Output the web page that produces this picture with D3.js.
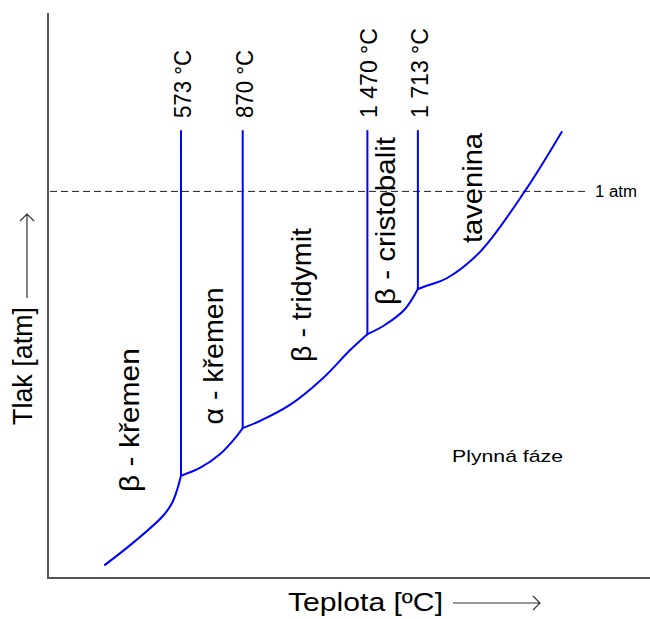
<!DOCTYPE html>
<html><head><meta charset="utf-8">
<script src="https://cdn.jsdelivr.net/npm/d3@7"></script>
<style>
body{margin:0;background:#fff}
svg{display:block}
text{font-family:"Liberation Sans",Arial,Helvetica,sans-serif;fill:#000}
</style>
</head><body>
<svg id="c" width="650" height="619"></svg>
<script>
// ---- data ----
const transitionTemps = [573, 870, 1470, 1713];
const transitionLabels = ["573 °C", "870 °C", "1 470 °C", "1 713 °C"];
const transitionBaseLogP = [-4.78, -3.98, -2.40, -1.64];
const transitionTopLogP = 1.03;

const seg1T = [207, 352, 486, 530, 554, 573];
const seg1P = [-6.28, -5.88, -5.457, -5.24, -5.02, -4.78];
const seg2T = [573, 664, 760, 842, 870];
const seg2P = [-4.78, -4.65, -4.42, -4.11, -3.98];
const seg3T = [870, 953, 1097, 1256, 1386, 1470];
const seg3P = [-3.98, -3.86, -3.59, -3.14, -2.67, -2.40];
const seg4T = [1470, 1552, 1648, 1713];
const seg4P = [-2.40, -2.25, -1.99, -1.64];
const seg5T = [1713, 1770, 1852, 2011, 2227, 2405];
const seg5P = [-1.64, -1.57, -1.46, -1.02, 0.0, 1.0];

const phaseNames = ["β - křemen", "α - křemen", "β - tridymit", "β - cristobalit", "tavenina"];
const atmLogP = 0;
const atmLabel = "1 atm";
const gasLabel = "Plynná fáze";
const xTitle = "Teplota [ºC]";
const yTitle = "Tlak [atm]";

// ---- layout ----
const x = d3.scaleLinear().domain([-67, 2830]).range([48, 650]);
const y = d3.scaleLinear().domain([-6.5, 3]).range([578, 13]);
const svg = d3.select("#c");

// axes frame
svg.append("line").attr("x1", x(-67)).attr("x2", x(-67)).attr("y1", y(3)).attr("y2", y(-6.5))
  .attr("stroke", "#555").attr("stroke-width", 2);
svg.append("line").attr("x1", x(-67) - 1).attr("x2", x(2830)).attr("y1", y(-6.5)).attr("y2", y(-6.5))
  .attr("stroke", "#555").attr("stroke-width", 2);

// 1 atm dashed line
svg.append("line").attr("x1", x(-67) + 2).attr("x2", 587).attr("y1", y(atmLogP)).attr("y2", y(atmLogP))
  .attr("stroke", "#222").attr("stroke-width", 1).attr("stroke-dasharray", "7,4");
svg.append("text").attr("x", 595).attr("y", y(atmLogP) + 6).attr("font-size", 16)
  .attr("textLength", 42).attr("lengthAdjust", "spacingAndGlyphs").text(atmLabel);

// curves
const line = d3.line().x(d => x(d[0])).y(d => y(d[1])).curve(d3.curveCatmullRom.alpha(0.5));
const segs = [[seg1T, seg1P], [seg2T, seg2P], [seg3T, seg3P], [seg4T, seg4P], [seg5T, seg5P]];
segs.forEach(([ts, ps]) => {
  svg.append("path").datum(ts.map((t, i) => [t, ps[i]])).attr("d", line)
    .attr("fill", "none").attr("stroke", "#0000ff").attr("stroke-width", 2)
    .attr("stroke-linejoin", "round").attr("stroke-linecap", "round");
});

// transition verticals
transitionTemps.forEach((t, i) => {
  svg.append("line").attr("x1", x(t)).attr("x2", x(t))
    .attr("y1", y(transitionBaseLogP[i])).attr("y2", y(transitionTopLogP))
    .attr("stroke", "#0000ff").attr("stroke-width", 2);
});

// rotated text helper
function vtext(str, bx, cy, size, len, anchor) {
  const t = svg.append("text")
    .attr("transform", `translate(${bx},${cy}) rotate(-90)`)
    .attr("text-anchor", anchor || "middle")
    .attr("font-size", size).text(str);
  if (len) t.attr("textLength", len).attr("lengthAdjust", "spacingAndGlyphs");
  return t;
}

// transition labels
const tLabelLen = [68, 68, 90, 90];
transitionTemps.forEach((t, i) => {
  vtext(transitionLabels[i], x(t) + 10, 118, 24, tLabelLen[i], "start");
});

// phase labels
const phaseLayout = [
  {bx: 139, cy: 420, len: 144},
  {bx: 223, cy: 356, len: 137},
  {bx: 311, cy: 295, len: 134},
  {bx: 395, cy: 221, len: 168},
  {bx: 482, cy: 188, len: 110}
];
phaseNames.forEach((n, i) => {
  const p = phaseLayout[i];
  vtext(n, p.bx, p.cy, 28, p.len, "middle");
});

// gas phase label
svg.append("text").attr("x", 452).attr("y", 462).attr("font-size", 17)
  .attr("textLength", 111).attr("lengthAdjust", "spacingAndGlyphs").text(gasLabel);

// x title + arrow
svg.append("text").attr("x", 288).attr("y", 611).attr("font-size", 25)
  .attr("textLength", 155).attr("lengthAdjust", "spacingAndGlyphs").text(xTitle);
const ax = 603;
svg.append("path").attr("d", `M453,${ax}H540M533,${ax - 7}L540,${ax}L533,${ax + 7}`)
  .attr("fill", "none").attr("stroke", "#333").attr("stroke-width", 1.2);

// y title + arrow
vtext(yTitle, 32, 425, 27, 118, "start");
const ay = 27;
svg.append("path").attr("d", `M${ay},298V214M${ay - 7},221L${ay},214L${ay + 7},221`)
  .attr("fill", "none").attr("stroke", "#333").attr("stroke-width", 1.2);
</script>
</body></html>
